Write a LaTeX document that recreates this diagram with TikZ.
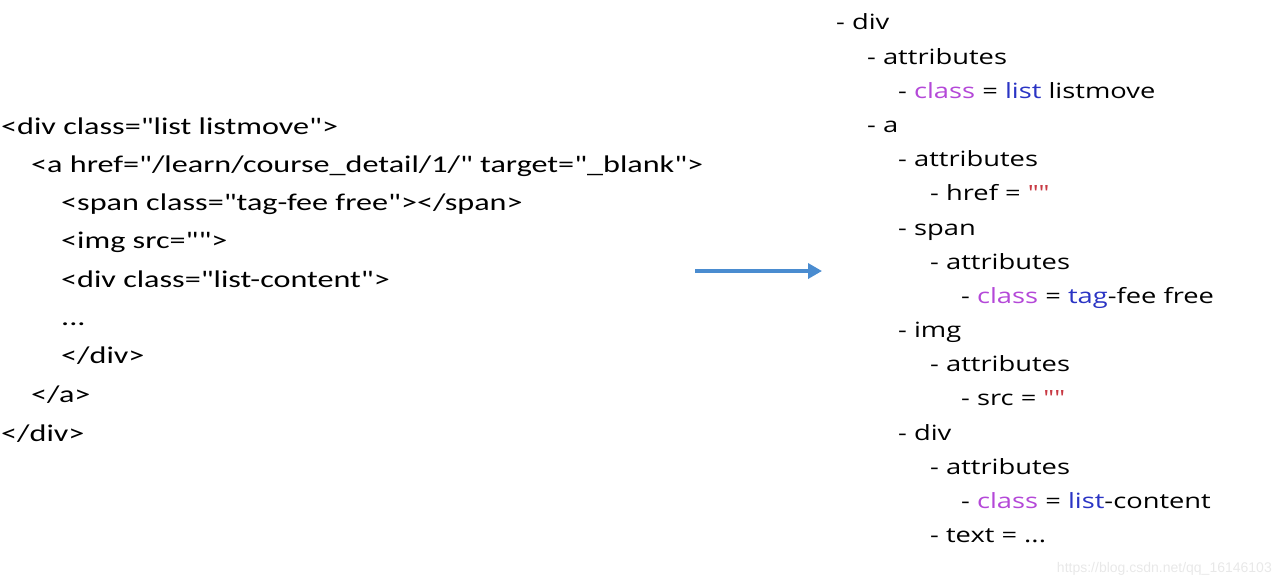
\documentclass[tikz,border=0pt]{standalone}
\usepackage{fontspec}
\usetikzlibrary{arrows.meta}
\setmainfont{Carlito}
\newfontfamily\htmlfamily{Carlito}[FakeStretch=1.34]
\newfontfamily\domfamily{Open Sans}[FakeStretch=1.30]
\newfontfamily\wmfamily{Liberation Sans}
\definecolor{arrowblue}{HTML}{4A8CD0}
\definecolor{keypurple}{HTML}{B448D8}
\definecolor{valblue}{HTML}{2A34C4}
\definecolor{strred}{HTML}{C83A44}
\newcommand{\keyc}[1]{\textcolor{keypurple}{#1}}
\newcommand{\valc}[1]{\textcolor{valblue}{#1}}
\newcommand{\strc}[1]{\textcolor{strred}{#1}}

\begin{document}
\begin{tikzpicture}[x=1pt, y=-1pt,
        code/.style={anchor=base west, inner sep=0pt, font=\htmlfamily\fontsize{24}{28}\selectfont},
        tree/.style={anchor=base west, inner sep=0pt, font=\domfamily\fontsize{21}{26}\selectfont},
        wmark/.style={anchor=base east, inner sep=0pt, text=black!9, font=\wmfamily\fontsize{14}{17}\selectfont}
    ]
    \useasboundingbox (0,0) rectangle (1280,582);

    % HTML source
    \node[code] (c1) at (1,134) {<div class="list listmove">};
    \node[code] (c2) at (31,172) {<a href="/learn/course\_detail/1/" target="\_blank">};
    \node[code] (c3) at (61,210) {<span class="tag-fee free"></span>};
    \node[code] (c4) at (61,248) {<img src="">};
    \node[code] (c5) at (61,287) {<div class="list-content">};
    \node[code] (c6) at (61,325) {...};
    \node[code] (c7) at (61,363) {</div>};
    \node[code] (c8) at (31,402) {</a>};
    \node[code] (c9) at (1,441) {</div>};

    % arrow
    \coordinate (arrS) at (695,271);
    \coordinate (arrE) at (822,271);
    \draw[-{Triangle[length=14pt, width=15pt]}, line width=4.5pt, arrowblue] (arrS) -- (arrE);

    % DOM tree
    \node[tree] (t1) at (836,29) {- div};
    \node[tree] (t2) at (867,64) {- attributes};
    \node[tree] (t3) at (898,98) {- \keyc{class} = \valc{list} listmove};
    \node[tree] (t4) at (867,132) {- a};
    \node[tree] (t5) at (898,166) {- attributes};
    \node[tree] (t6) at (930,200) {- href = \strc{""}};
    \node[tree] (t7) at (898,235) {- span};
    \node[tree] (t8) at (930,269) {- attributes};
    \node[tree] (t9) at (961,303) {- \keyc{class} = \valc{tag}-fee free};
    \node[tree] (t10) at (898,337) {- img};
    \node[tree] (t11) at (930,371) {- attributes};
    \node[tree] (t12) at (961,405) {- src = \strc{""}};
    \node[tree] (t13) at (898,440) {- div};
    \node[tree] (t14) at (930,474) {- attributes};
    \node[tree] (t15) at (961,508) {- \keyc{class} = \valc{list}-content};
    \node[tree] (t16) at (930,542) {- text = ...};

    % watermark
    \node[wmark] (wm) at (1272,572) {https://blog.csdn.net/qq\_16146103};
\end{tikzpicture}
\end{document}
